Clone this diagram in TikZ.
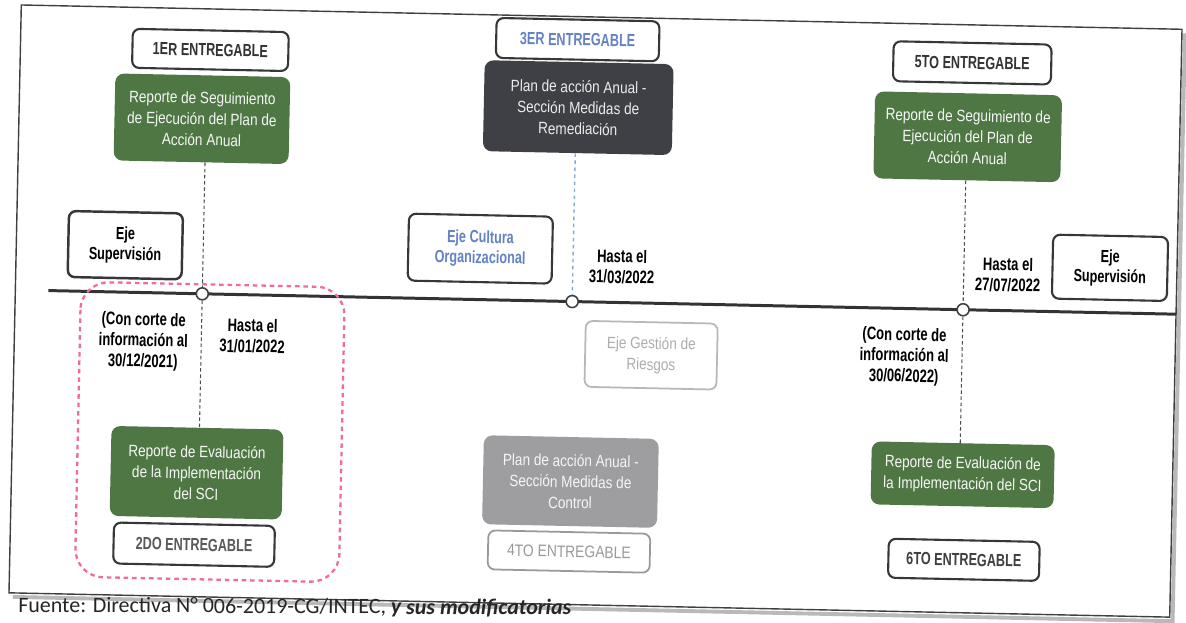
\documentclass[tikz,border=0pt]{standalone}
\usepackage{fontspec}
\setmainfont{Liberation Sans}[FakeStretch=0.83]
\newfontfamily\condfont{Liberation Sans}[FakeStretch=0.72]
\newfontfamily\capfont{Carlito}
\definecolor{grn}{RGB}{79,119,68}
\definecolor{darkbox}{RGB}{62,64,69}
\definecolor{graybox}{RGB}{158,158,160}
\definecolor{bluetxt}{RGB}{100,130,195}
\definecolor{bluedot}{RGB}{130,170,225}
\definecolor{pinkd}{RGB}{240,110,150}
\definecolor{edge}{RGB}{55,55,55}
\tikzset{
  wbox/.style={draw=edge, line width=1.2pt, rounded corners=4pt, fill=white, align=center,
    inner sep=1pt, text=black!80, font=\condfont\bfseries\fontsize{10}{11.5}\selectfont},
  gbox/.style={fill=grn, rounded corners=5pt, align=center, inner sep=1pt,
    text=white!93!gray, font=\fontsize{9.3}{12}\selectfont},
  dbox/.style={gbox, fill=darkbox, text=white!85!gray},
  lbox/.style={gbox, fill=graybox, text=white!92!gray},
  lbl/.style={align=center, inner sep=1pt, text=black, font=\condfont\bfseries\fontsize{10.3}{11.8}\selectfont},
  conn/.style={draw=black!70, line width=0.6pt, dash pattern=on 2pt off 1.5pt},
  bconn/.style={draw=bluedot, line width=0.8pt, dash pattern=on 2pt off 2pt},
  tl/.style={draw=black!80, line width=1.7pt},
  dot/.style={circle, draw=black!75, line width=0.9pt, fill=white, minimum size=0.24cm, inner sep=0pt},
  pinkdash/.style={draw=pinkd, line width=1.3pt, dash pattern=on 2.6pt off 2.2pt, rounded corners=16pt},
}
\begin{document}
\begin{tikzpicture}[x=0.02cm, y=-0.02cm]
\fill[white] (0,0) rectangle (1186,622);
\useasboundingbox (0,0) rectangle (1186,622);
\begin{scope}[rotate around={-1.2:(593,311)}, transform shape]
  % frame
  \draw[gray!55, line width=2.2pt] (1179,21) -- (1179,609) -- (19,609);
  \draw[black!75, line width=0.8pt] (15,17) rectangle (1176,605);
  % timeline
  \coordinate (tl0) at (48,302);
  \coordinate (tl1) at (1176,302);
  \draw[tl] (tl0) -- (tl1);
  \node[dot] (c1) at (202,302) {};
  \node[dot] (c2) at (572,302) {};
  \node[dot] (c3) at (963,302) {};
  % left group
  \draw[pinkdash] (80.5,292.5) rectangle (344.5,587.5);
  \node[wbox, minimum width=3.12cm, minimum height=0.78cm] (e1) at (205,58) {1ER ENTREGABLE};
  \node[gbox, minimum width=3.5cm, minimum height=1.74cm] (g1) at (198,127) {Reporte de Seguimiento\\de Ejecución del Plan de\\Acción Anual};
  \node[wbox, text=black, line width=1.4pt, minimum width=2.28cm, minimum height=1.32cm] (es1) at (124,255) {Eje\\Supervisión};
  \node[lbl] (t1) at (144,351) {(Con corte de\\información al\\30/12/2021)};
  \node[lbl] (h1) at (253,343) {Hasta el\\31/01/2022};
  \node[gbox, minimum width=3.44cm, minimum height=1.8cm] (g2) at (200,481) {Reporte de Evaluación\\de la Implementación\\del SCI};
  \node[wbox, text=black!65, minimum width=3.22cm, minimum height=0.82cm] (e2) at (199,553) {2DO ENTREGABLE};
  % middle group
  \node[wbox, text=bluetxt, minimum width=3.26cm, minimum height=0.8cm] (e3) at (572,40) {3ER ENTREGABLE};
  \node[dbox, minimum width=3.78cm, minimum height=1.82cm] (d1) at (574,108) {Plan de acción Anual -\\Sección Medidas de\\Remediación};
  \node[wbox, text=bluetxt, minimum width=2.88cm, minimum height=1.34cm] (ec) at (479,251) {Eje Cultura\\Organizacional};
  \node[lbl] (h2) at (621,266) {Hasta el\\31/03/2022};
  \node[wbox, draw=black!28, line width=1pt, text=black!32, font=\fontsize{9.3}{12}\selectfont, minimum width=2.64cm, minimum height=1.32cm] (eg) at (652,354) {Eje Gestión de\\Riesgos};
  \node[lbox, minimum width=3.5cm, minimum height=1.78cm] (d2) at (574,482) {Plan de acción Anual -\\Sección Medidas de\\Control};
  \node[wbox, draw=black!40, line width=1pt, text=black!40, font=\fontsize{9.5}{11.5}\selectfont, minimum width=3.24cm, minimum height=0.78cm] (e4) at (574,552) {4TO ENTREGABLE};
  % right group
  \node[wbox, minimum width=3.16cm, minimum height=0.8cm] (e5) at (967,55) {5TO ENTREGABLE};
  \node[gbox, minimum width=3.74cm, minimum height=1.74cm] (g3) at (964,129) {Reporte de Seguimiento de\\Ejecución del Plan de\\Acción Anual};
  \node[lbl] (h3) at (1007,266) {Hasta el\\27/07/2022};
  \node[wbox, text=black, minimum width=2.3cm, minimum height=1.28cm] (es2) at (1109,257) {Eje\\Supervisión};
  \node[lbl] (t3) at (905,350) {(Con corte de\\información al\\30/06/2022)};
  \node[gbox, minimum width=3.66cm, minimum height=1.26cm] (g4) at (966,467) {Reporte de Evaluación de\\la Implementación del SCI};
  \node[wbox, text=black!75, minimum width=3.02cm, minimum height=0.78cm] (e6) at (969,552) {6TO ENTREGABLE};
  % connectors
  \draw[conn] (c1 |- g1.south) -- (c1);
  \draw[conn] (c1) -- (c1 |- g2.north);
  \draw[bconn] (c2 |- d1.south) -- (c2);
  \draw[conn] (c3 |- g3.south) -- (c3);
  \draw[conn] (c3) -- (c3 |- g4.north);
\end{scope}
% caption
\node[anchor=base west, inner sep=0pt, rotate=-0.3, text=black!85, font=\capfont\fontsize{12.5}{14}\selectfont] (cap) at (18,612) {Fuente: Directiva N° 006-2019-CG/INTEC, \textbf{\textit{y sus modificatorias}}};
\end{tikzpicture}
\end{document}
